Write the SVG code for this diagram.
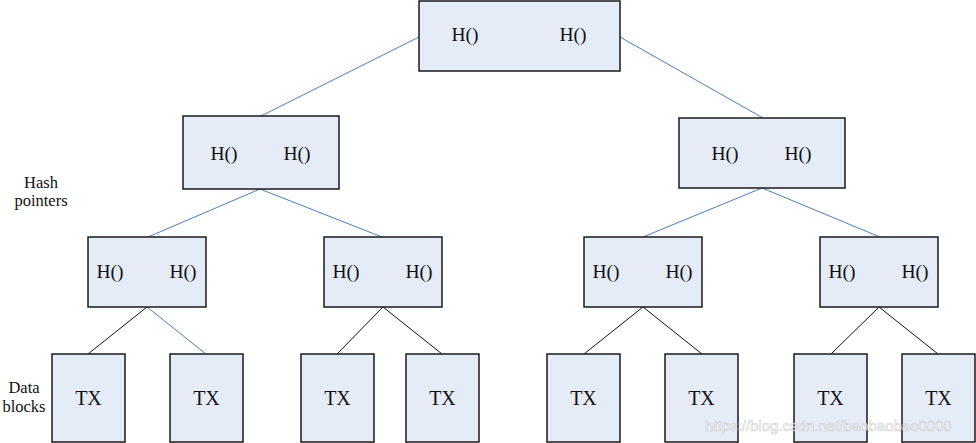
<svg xmlns="http://www.w3.org/2000/svg" width="976" height="443" viewBox="0 0 976 443">
<style>
.box{fill:#e6ecf7;stroke:#1a1a1a;stroke-width:1.5}
.t{font-family:"Liberation Serif",serif;font-size:19.5px;fill:#111;text-anchor:middle}
.tx{font-family:"Liberation Serif",serif;font-size:20px;fill:#111;text-anchor:middle}
.lbl{font-family:"Liberation Serif",serif;font-size:16.5px;fill:#111;text-anchor:middle}
.b{stroke:#4a7ebb;stroke-width:1;fill:none}
.k{stroke:#111;stroke-width:1;fill:none}
.wm{font-family:"Liberation Sans",sans-serif;font-size:15px;fill:#ffffff;stroke:#c8c8c8;stroke-width:0.6;opacity:0.8}
</style>
<rect width="976" height="443" fill="#fff"/>
<g id="connectors">
<line class="b" x1="419" y1="37" x2="261" y2="116"/>
<line class="b" x1="620" y1="37" x2="763" y2="118"/>
<line class="b" x1="260" y1="189" x2="148" y2="237"/>
<line class="b" x1="260" y1="189" x2="382" y2="237"/>
<line class="b" x1="762" y1="188" x2="643" y2="237"/>
<line class="b" x1="762" y1="188" x2="880" y2="237"/>
<line class="k" x1="147" y1="307" x2="88" y2="354"/>
<line class="b" x1="147" y1="307" x2="206" y2="354"/>
<line class="k" x1="383" y1="307" x2="337" y2="354"/>
<line class="k" x1="383" y1="307" x2="442" y2="354"/>
<line class="k" x1="643" y1="307" x2="584" y2="354"/>
<line class="k" x1="643" y1="307" x2="702" y2="354"/>
<line class="k" x1="879" y1="307" x2="831" y2="354"/>
<line class="k" x1="879" y1="307" x2="938" y2="354"/>
</g>
<g id="root"><rect class="box" x="419" y="1" width="201" height="70"/><text class="t" x="465" y="41">H()</text><text class="t" x="573" y="41">H()</text></g>
<g id="l2a"><rect class="box" x="183" y="116" width="156" height="73"/><text class="t" x="224" y="160">H()</text><text class="t" x="297" y="160">H()</text></g>
<g id="l2b"><rect class="box" x="679" y="118" width="166" height="70"/><text class="t" x="725" y="160">H()</text><text class="t" x="798" y="160">H()</text></g>
<g id="l3a"><rect class="box" x="88" y="237" width="118" height="70"/><text class="t" x="110" y="278">H()</text><text class="t" x="183" y="278">H()</text></g>
<g id="l3b"><rect class="box" x="324" y="237" width="118" height="70"/><text class="t" x="346" y="278">H()</text><text class="t" x="419" y="278">H()</text></g>
<g id="l3c"><rect class="box" x="584" y="237" width="118" height="70"/><text class="t" x="606" y="278">H()</text><text class="t" x="679" y="278">H()</text></g>
<g id="l3d"><rect class="box" x="820" y="237" width="118" height="70"/><text class="t" x="842" y="278">H()</text><text class="t" x="915" y="278">H()</text></g>
<g id="tx1"><rect class="box" x="52" y="354" width="73" height="88"/><text class="tx" x="88.5" y="405">TX</text></g>
<g id="tx2"><rect class="box" x="170" y="354" width="73" height="88"/><text class="tx" x="206.5" y="405">TX</text></g>
<g id="tx3"><rect class="box" x="301" y="354" width="73" height="88"/><text class="tx" x="337.5" y="405">TX</text></g>
<g id="tx4"><rect class="box" x="406" y="354" width="73" height="88"/><text class="tx" x="442.5" y="405">TX</text></g>
<g id="tx5"><rect class="box" x="547" y="354" width="73" height="88"/><text class="tx" x="583.5" y="405">TX</text></g>
<g id="tx6"><rect class="box" x="665" y="354" width="73" height="88"/><text class="tx" x="701.5" y="405">TX</text></g>
<g id="tx7"><rect class="box" x="794" y="354" width="73" height="88"/><text class="tx" x="830.5" y="405">TX</text></g>
<g id="tx8"><rect class="box" x="902" y="354" width="73" height="88"/><text class="tx" x="938.5" y="405">TX</text></g>
<g id="labels">
<text class="lbl" x="41" y="188">Hash</text>
<text class="lbl" x="41" y="206">pointers</text>
<text class="lbl" x="24" y="393">Data</text>
<text class="lbl" x="24" y="412">blocks</text>
</g>
<text class="wm" x="705" y="431">https://blog.csdn.net/baobaobao0000</text>
</svg>
